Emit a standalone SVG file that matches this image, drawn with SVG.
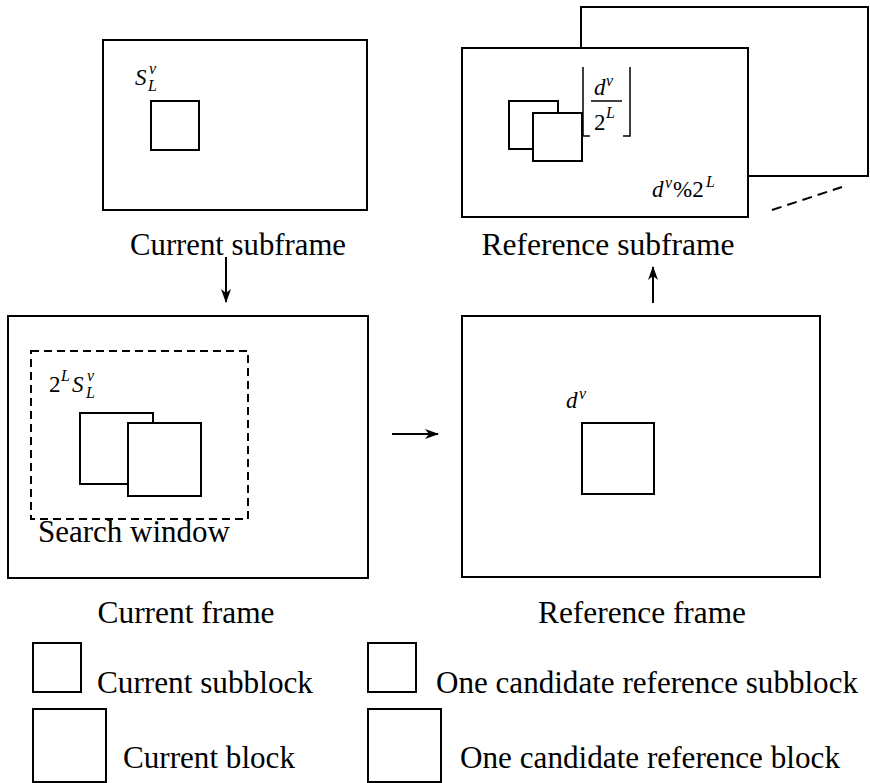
<svg xmlns="http://www.w3.org/2000/svg" width="870" height="783" viewBox="0 0 870 783">
<defs>
<marker id="ah" markerWidth="14" markerHeight="10" refX="13" refY="5" orient="auto" markerUnits="userSpaceOnUse">
<path d="M0,0 L14,5 L0,10 L4,5 Z" fill="#000"/>
</marker>
<style>
.box{fill:#fff;stroke:#000;stroke-width:2}
.nofill{fill:none;stroke:#000;stroke-width:2}
.dash{fill:none;stroke:#000;stroke-width:2;stroke-dasharray:8 5}
.lbl{font-family:"Liberation Serif","Times New Roman",serif;font-size:31px;fill:#000}
.m{font-family:"Liberation Serif","Times New Roman",serif;font-style:italic;font-size:23px;fill:#000}
.mu{font-family:"Liberation Serif","Times New Roman",serif;font-size:23px;fill:#000}
.s{font-size:16px}
.conn{stroke:#000;stroke-width:2;fill:none;marker-end:url(#ah)}
</style>
</defs>
<rect width="870" height="783" fill="#fff"/>

<g id="current-subframe">
<rect class="box" x="103" y="40" width="264" height="170"/>
<rect class="box" x="151" y="101" width="48" height="49"/>
<text class="m" x="135" y="85">S</text>
<text class="m s" x="148" y="91">L</text>
<text class="m s" x="149" y="74">ν</text>
<text class="lbl" x="238" y="255" text-anchor="middle" textLength="216" lengthAdjust="spacingAndGlyphs">Current subframe</text>
</g>

<g id="reference-subframe">
<path class="nofill" d="M581,48 V7 H868 V176 H748"/>
<rect class="box" x="462" y="48" width="286" height="169"/>
<rect class="box" x="509" y="101" width="49" height="48"/>
<rect class="box" x="533" y="113" width="49" height="48"/>
<path d="M583,67 V136 H590" fill="none" stroke="#000" stroke-width="1.5"/>
<path d="M623,136 H630 V67" fill="none" stroke="#000" stroke-width="1.5"/>
<text class="m" x="594" y="95">d</text>
<text class="m s" x="606" y="86">ν</text>
<line x1="591" y1="101" x2="622" y2="101" stroke="#000" stroke-width="1.5"/>
<text class="mu" x="594" y="130">2</text>
<text class="m s" x="606" y="118">L</text>
<text class="m" x="652" y="197">d</text>
<text class="m s" x="665" y="188">ν</text>
<text class="mu" x="673" y="197">%2</text>
<text class="m s" x="706" y="187">L</text>
<line x1="772" y1="210" x2="842" y2="187" stroke="#000" stroke-width="2" stroke-dasharray="10 6"/>
<text class="lbl" x="608" y="255" text-anchor="middle" textLength="253" lengthAdjust="spacingAndGlyphs">Reference subframe</text>
</g>

<g id="current-frame">
<rect class="box" x="8" y="316" width="360" height="262"/>
<rect class="dash" x="31" y="351" width="217" height="168"/>
<rect class="box" x="80" y="413" width="73" height="71"/>
<rect class="box" x="128" y="423" width="73" height="73"/>
<text class="mu" x="49" y="392">2</text>
<text class="m s" x="61" y="381">L</text>
<text class="m" x="72" y="392">S</text>
<text class="m s" x="86" y="398">L</text>
<text class="m s" x="87" y="381">ν</text>
<text class="lbl" x="38" y="542" textLength="192" lengthAdjust="spacingAndGlyphs">Search window</text>
<text class="lbl" x="186" y="623" text-anchor="middle" textLength="177" lengthAdjust="spacingAndGlyphs">Current frame</text>
</g>

<g id="reference-frame">
<rect class="box" x="462" y="316" width="358" height="261"/>
<rect class="box" x="582" y="423" width="72" height="71"/>
<text class="m" x="566" y="408">d</text>
<text class="m s" x="579" y="399">ν</text>
<text class="lbl" x="642" y="623" text-anchor="middle" textLength="208" lengthAdjust="spacingAndGlyphs">Reference frame</text>
</g>

<g id="legend">
<rect class="box" x="33" y="643" width="48" height="49"/>
<text class="lbl" x="97" y="693" textLength="216" lengthAdjust="spacingAndGlyphs">Current subblock</text>
<rect class="box" x="368" y="643" width="48" height="49"/>
<text class="lbl" x="436" y="693" textLength="422" lengthAdjust="spacingAndGlyphs">One candidate reference subblock</text>
<rect class="box" x="33" y="709" width="73" height="73"/>
<text class="lbl" x="123" y="768" textLength="172" lengthAdjust="spacingAndGlyphs">Current block</text>
<rect class="box" x="368" y="709" width="73" height="73"/>
<text class="lbl" x="460" y="768" textLength="380" lengthAdjust="spacingAndGlyphs">One candidate reference block</text>
</g>

<g id="connectors">
<line class="conn" x1="226" y1="257" x2="226" y2="302"/>
<line class="conn" x1="392" y1="434" x2="438" y2="434"/>
<line class="conn" x1="653" y1="303" x2="653" y2="267"/>
</g>
</svg>
